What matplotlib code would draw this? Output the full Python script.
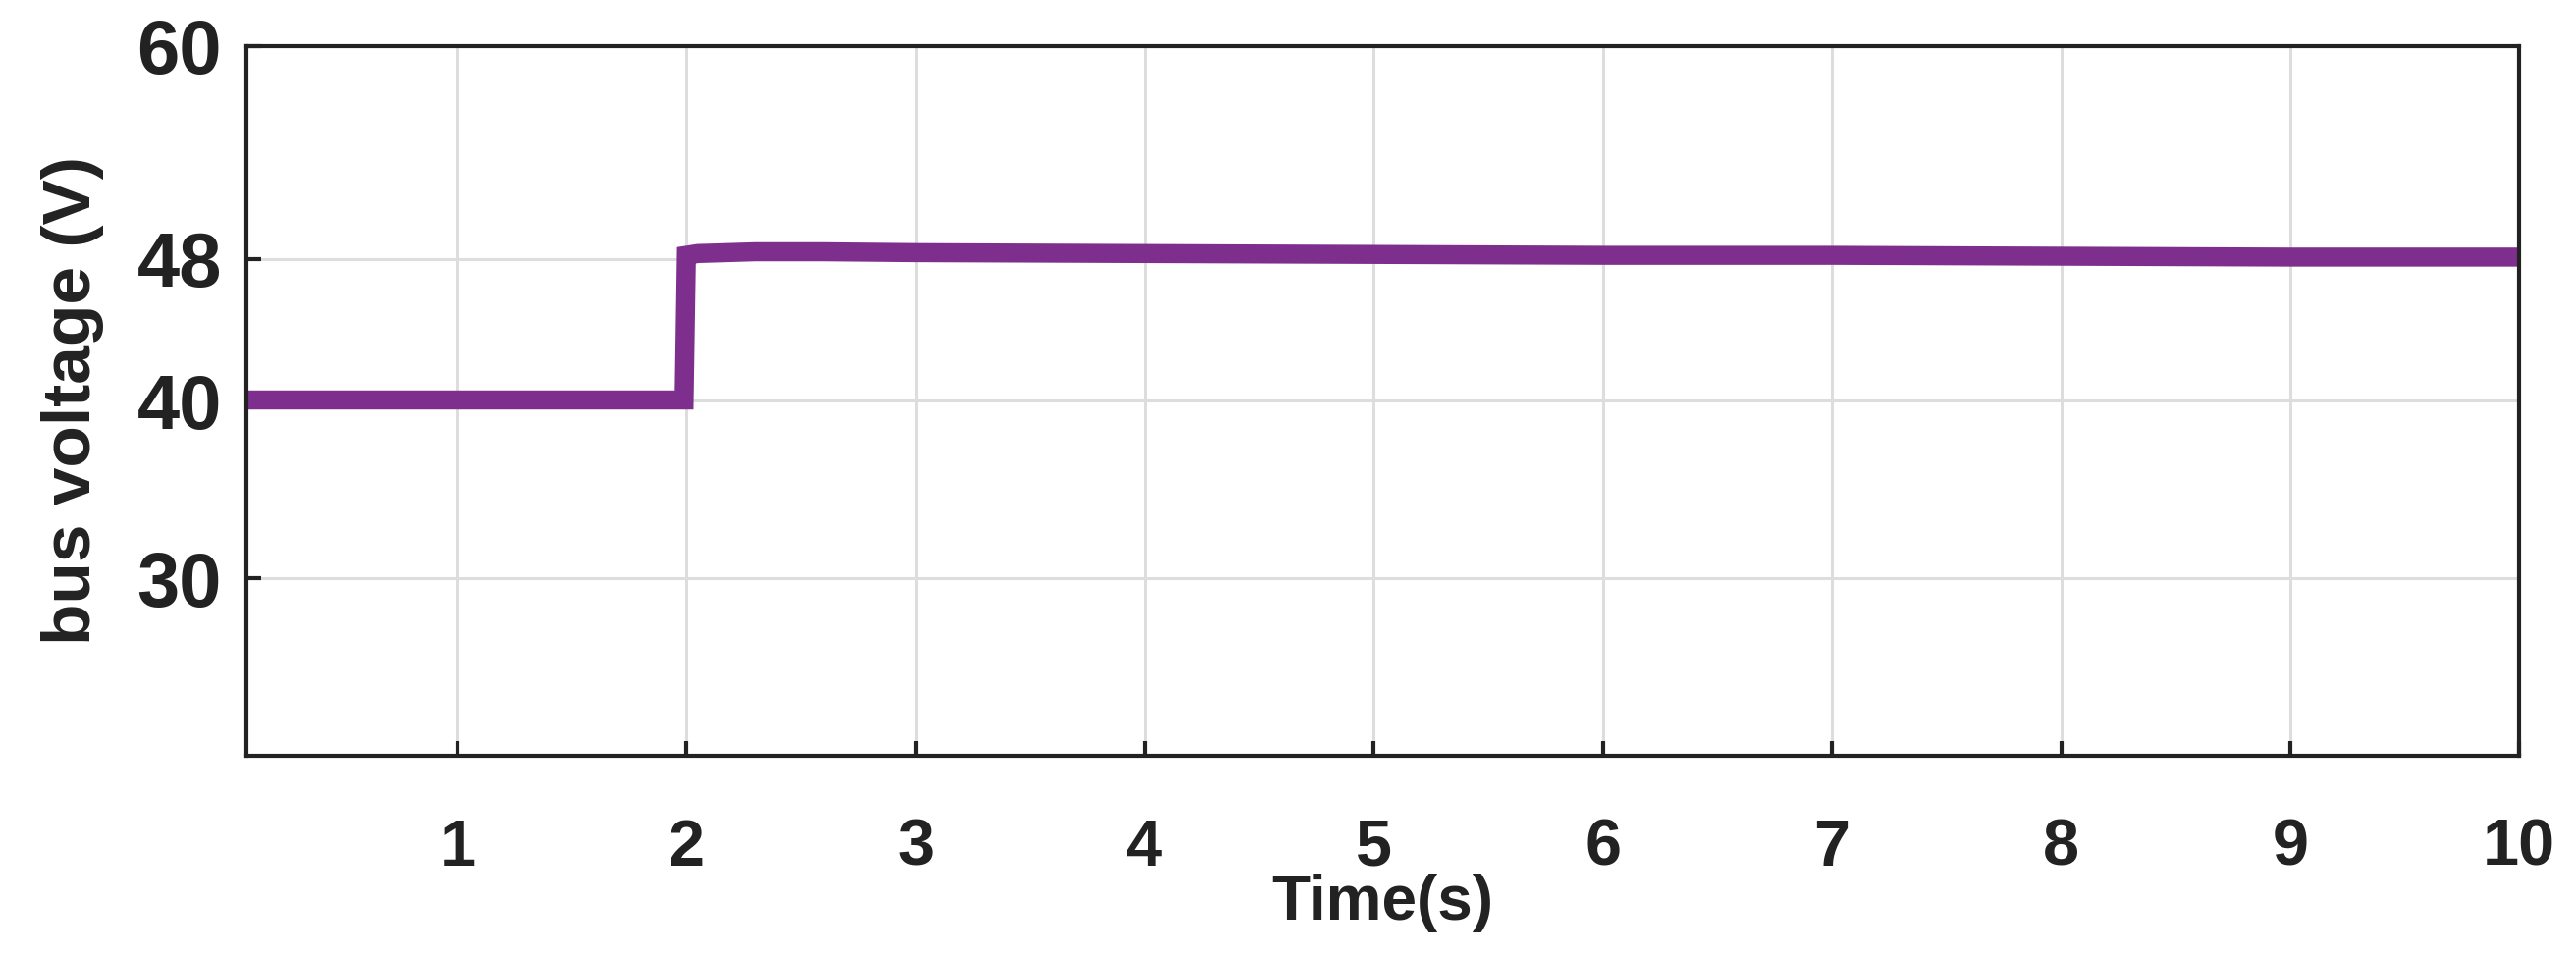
import matplotlib
matplotlib.use("Agg")
import matplotlib.pyplot as plt
from matplotlib import font_manager

# bus voltage trace
time_s = [0.0, 0.5, 1.0, 1.5, 1.99, 2.0, 2.05, 2.3, 2.6, 3.0, 4.0, 5.0, 6.0, 7.0, 8.0, 9.0, 10.0]
voltage = [40.05, 40.05, 40.05, 40.05, 40.05, 48.2, 48.3, 48.4, 48.4, 48.35, 48.3, 48.25, 48.2, 48.2, 48.15, 48.1, 48.1]

x_ticks = [1, 2, 3, 4, 5, 6, 7, 8, 9, 10]
y_ticks = [30, 40, 48, 60]

line_color = "#7E2F8E"

names = {f.name for f in font_manager.fontManager.ttflist}
main_font = "Liberation Sans" if "Liberation Sans" in names else "DejaVu Sans"

plt.rcParams["font.family"] = main_font
plt.rcParams["font.weight"] = "bold"

fig = plt.figure(figsize=(26.24, 9.74), dpi=100)
ax = fig.add_axes([0.0957, 0.2094, 0.978 - 0.0957, 0.952 - 0.2094])

ax.plot(time_s, voltage, color=line_color, linewidth=14, solid_joinstyle="miter")

ax.set_xlim(0.08, 10)
ax.set_ylim(20, 60)
ax.set_xticks(x_ticks)
ax.set_yticks(y_ticks)
ax.set_xticklabels([str(t) for t in x_ticks], fontsize=48, fontweight="bold", color="#222222")
ax.set_yticklabels([str(t) for t in y_ticks], fontsize=56, fontweight="bold", color="#222222")

ax.grid(True, color="#dddddd", linewidth=2.2)
ax.set_axisbelow(True)
ax.tick_params(axis="both", direction="in", length=11, width=3, color="#222222")
ax.tick_params(axis="x", pad=46)
ax.tick_params(axis="y", pad=18)
for s in ax.spines.values():
    s.set_linewidth(3)
    s.set_color("#222222")

ax.set_xlabel("Time(s)", fontsize=46, fontweight="bold", color="#222222", labelpad=-4)
ax.set_ylabel("bus voltage (V)", fontsize=50, fontweight="bold", color="#222222", labelpad=24)

fig.savefig("out.png", dpi=100)
